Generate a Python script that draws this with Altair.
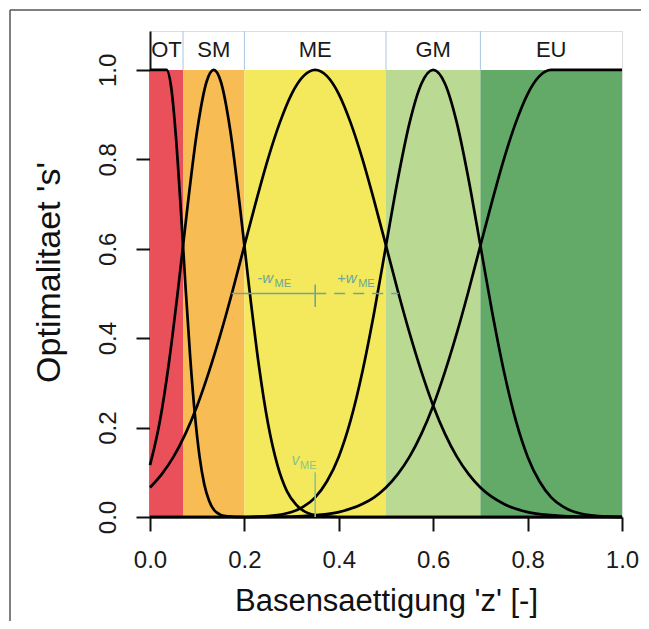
import altair as alt
import pandas as pd

# --- bands / classes ---
band_names = ["OT", "SM", "ME", "GM", "EU"]
band_start = [0.0, 0.07, 0.2, 0.5, 0.7]
band_end = [0.07, 0.2, 0.5, 0.7, 1.0]
band_colors = ["#E9505A", "#F8BC55", "#F4E95C", "#BAD993", "#63A968"]
label_x = [0.035, 0.135, 0.35, 0.6, 0.85]
separators = [0.07, 0.2, 0.5, 0.7]

# --- optimality curves ---
OT_x = [0.0, 0.035, 0.045, 0.055, 0.065, 0.075, 0.085, 0.095, 0.105, 0.115, 0.125, 0.14, 0.16, 0.2, 1.0]
OT_y = [1.0, 1.0, 0.960, 0.849, 0.693, 0.520, 0.360, 0.230, 0.135, 0.073, 0.037, 0.011, 0.002, 0.0, 0.0]

SM_x = [0.0, 0.02, 0.04, 0.06, 0.08, 0.10, 0.12, 0.135, 0.15, 0.17, 0.19, 0.21, 0.23, 0.25, 0.27, 0.29, 0.31, 0.33, 0.36, 0.40, 1.0]
SM_y = [0.116, 0.209, 0.344, 0.514, 0.699, 0.865, 0.974, 1.0, 0.974, 0.865, 0.699, 0.514, 0.344, 0.209, 0.116, 0.058, 0.027, 0.011, 0.003, 0.0, 0.0]

ME_x = [0.0, 0.025, 0.05, 0.075, 0.1, 0.125, 0.15, 0.175, 0.2, 0.225, 0.25, 0.275, 0.3, 0.325, 0.35,
        0.375, 0.4, 0.425, 0.45, 0.475, 0.5, 0.525, 0.55, 0.575, 0.6, 0.625, 0.65, 0.675, 0.7,
        0.75, 0.8, 0.85, 0.9, 1.0]
ME_y = [0.066, 0.096, 0.135, 0.186, 0.249, 0.325, 0.411, 0.506, 0.607, 0.707, 0.801, 0.882, 0.946, 0.986, 1.0,
        0.986, 0.946, 0.882, 0.801, 0.707, 0.607, 0.506, 0.411, 0.325, 0.249, 0.186, 0.135, 0.096, 0.066,
        0.029, 0.011, 0.004, 0.001, 0.0]

GM_x = [0.0, 0.2, 0.25, 0.3, 0.325, 0.35, 0.375, 0.4, 0.425, 0.45, 0.475, 0.5, 0.525, 0.55, 0.575, 0.6,
        0.625, 0.65, 0.675, 0.7, 0.725, 0.75, 0.775, 0.8, 0.825, 0.85, 0.875, 0.9, 0.95, 1.0]
GM_y = [0.0, 0.0, 0.002, 0.011, 0.023, 0.044, 0.080, 0.135, 0.216, 0.325, 0.458, 0.607, 0.755, 0.882, 0.969, 1.0,
        0.969, 0.882, 0.755, 0.607, 0.458, 0.325, 0.216, 0.135, 0.080, 0.044, 0.023, 0.011, 0.002, 0.0]

EU_x = [0.0, 0.2, 0.3, 0.35, 0.4, 0.45, 0.475, 0.5, 0.525, 0.55, 0.575, 0.6, 0.625, 0.65, 0.675, 0.7,
        0.725, 0.75, 0.775, 0.8, 0.825, 0.85, 1.0]
EU_y = [0.0, 0.0, 0.001, 0.004, 0.011, 0.029, 0.044, 0.066, 0.096, 0.135, 0.186, 0.249, 0.325, 0.411, 0.506, 0.607,
        0.707, 0.801, 0.882, 0.946, 0.986, 1.0, 1.0]

# annotation values for ME
me_center = 0.35
me_left = 0.173
me_right = 0.527
me_level = 0.5
v_top = 0.1

x_ticks = [0.0, 0.2, 0.4, 0.6, 0.8, 1.0]
y_ticks = [0.0, 0.2, 0.4, 0.6, 0.8, 1.0]
Y_TOP = 1.087

FONT = "Liberation Sans"

bands = pd.DataFrame({"name": band_names, "x0": band_start, "x1": band_end,
                      "y0": [0.0] * 5, "y1": [1.0] * 5, "lx": label_x,
                      "ly": [1.045] * 5})
rows = []
for nm, xs_, ys_ in [("OT", OT_x, OT_y), ("SM", SM_x, SM_y), ("ME", ME_x, ME_y),
                     ("GM", GM_x, GM_y), ("EU", EU_x, EU_y)]:
    for i, (a, b) in enumerate(zip(xs_, ys_)):
        rows.append({"curve": nm, "x": a, "s": b, "i": i})
curves = pd.DataFrame(rows)

xs = alt.Scale(domain=[0, 1], nice=False, zero=False, padding=0)
ys = alt.Scale(domain=[0, Y_TOP], nice=False, zero=False, padding=0)

xaxis = alt.Axis(values=x_ticks, format=".1f", grid=False, labelFontSize=24, labelFont=FONT,
                 labelColor="#1a1a1a", tickSize=14, tickWidth=2, tickColor="#111",
                 domainColor="#111", domainWidth=2, labelPadding=17, labelFlush=False,
                 title="Basensaettigung 'z' [-]", titleFont=FONT, titleFontSize=31,
                 titleFontWeight="normal", titleColor="#111", titleBaseline="alphabetic",
                 titleY=93)
yaxis = alt.Axis(values=y_ticks, format=".1f", grid=False, labelFontSize=24, labelFont=FONT,
                 labelColor="#1a1a1a", tickSize=14, tickWidth=2, tickColor="#111",
                 domainColor="#111", domainWidth=2, labelPadding=21, labelAngle=270,
                 labelAlign="center", labelBaseline="alphabetic", labelFlush=False,
                 title="Optimalitaet 's'", titleFont=FONT, titleFontSize=34,
                 titleFontWeight="normal", titleColor="#111", titleAngle=270,
                 titleAlign="center", titleBaseline="alphabetic", titleX=-91, titleY=241)

band_layer = alt.Chart(bands).mark_rect().encode(
    x=alt.X("x0:Q", scale=xs, axis=xaxis),
    x2="x1:Q",
    y=alt.Y("y0:Q", scale=ys, axis=yaxis),
    y2="y1:Q",
    color=alt.Color("name:N", scale=alt.Scale(domain=band_names, range=band_colors), legend=None),
)

sep_df = pd.DataFrame({"x": separators, "y0": [1.0] * 4, "y1": [Y_TOP] * 4})
sep_layer = alt.Chart(sep_df).mark_rule(color="#A9C6E4", strokeWidth=1).encode(
    x=alt.X("x:Q", scale=xs), y=alt.Y("y0:Q", scale=ys), y2="y1:Q")

label_layer = alt.Chart(bands).mark_text(font=FONT, fontSize=22, color="#1a1a1a",
                                         baseline="middle", align="center").encode(
    x=alt.X("lx:Q", scale=xs), y=alt.Y("ly:Q", scale=ys), text="name:N")

curve_layer = alt.Chart(curves).mark_line(color="black", strokeWidth=2.7, interpolate="monotone").encode(
    x=alt.X("x:Q", scale=xs), y=alt.Y("s:Q", scale=ys), detail="curve:N", order="i:Q")

ANN = "#6CA69B"
solid_df = pd.DataFrame({"x0": [me_left], "x1": [me_center], "y": [me_level]})
dash_df = pd.DataFrame({"x0": [me_center], "x1": [me_right], "y": [me_level]})
solid = alt.Chart(solid_df).mark_rule(color=ANN, strokeWidth=1.6).encode(
    x=alt.X("x0:Q", scale=xs), x2="x1:Q", y=alt.Y("y:Q", scale=ys))
dashed = alt.Chart(dash_df).mark_rule(color=ANN, strokeWidth=1.6, strokeDash=[11, 8]).encode(
    x=alt.X("x0:Q", scale=xs), x2="x1:Q", y=alt.Y("y:Q", scale=ys))
tick_df = pd.DataFrame({"x": [me_center], "y0": [me_level - 0.03], "y1": [me_level + 0.02]})
tick = alt.Chart(tick_df).mark_rule(color=ANN, strokeWidth=1.6).encode(
    x=alt.X("x:Q", scale=xs), y=alt.Y("y0:Q", scale=ys), y2="y1:Q")
v_df = pd.DataFrame({"x": [me_center], "y0": [0.0], "y1": [v_top]})
vline = alt.Chart(v_df).mark_rule(color="#8CC48A", strokeWidth=1.6).encode(
    x=alt.X("x:Q", scale=xs), y=alt.Y("y0:Q", scale=ys), y2="y1:Q")

main_txt = pd.DataFrame({"x": [0.227, 0.396], "y": [0.523, 0.523], "t": ["-w", "+w"]})
sub_txt = pd.DataFrame({"x": [0.264, 0.441], "y": [0.514, 0.514], "t": ["ME", "ME"]})
w_main = alt.Chart(main_txt).mark_text(font=FONT, fontSize=15, fontStyle="italic", color=ANN,
                                       align="left", baseline="alphabetic").encode(
    x=alt.X("x:Q", scale=xs), y=alt.Y("y:Q", scale=ys), text="t:N")
w_sub = alt.Chart(sub_txt).mark_text(font=FONT, fontSize=11, color=ANN,
                                     align="left", baseline="alphabetic").encode(
    x=alt.X("x:Q", scale=xs), y=alt.Y("y:Q", scale=ys), text="t:N")
v_main_df = pd.DataFrame({"x": [0.30], "y": [0.116], "t": ["v"]})
v_sub_df = pd.DataFrame({"x": [0.318], "y": [0.108], "t": ["ME"]})
v_main = alt.Chart(v_main_df).mark_text(font=FONT, fontSize=16, fontStyle="italic", color="#8CC48A",
                                        align="left", baseline="alphabetic").encode(
    x=alt.X("x:Q", scale=xs), y=alt.Y("y:Q", scale=ys), text="t:N")
v_sub = alt.Chart(v_sub_df).mark_text(font=FONT, fontSize=11, color="#8CC48A",
                                      align="left", baseline="alphabetic").encode(
    x=alt.X("x:Q", scale=xs), y=alt.Y("y:Q", scale=ys), text="t:N")

# outer frame of the figure (left and top edges)
frame_left = alt.Chart(pd.DataFrame({"k": [0]})).mark_rule(color="#555", strokeWidth=1.5).encode(
    x=alt.value(-140), y=alt.value(-21), y2=alt.value(600))
frame_top = alt.Chart(pd.DataFrame({"k": [0]})).mark_rule(color="#555", strokeWidth=1.5).encode(
    x=alt.value(-140), x2=alt.value(500), y=alt.value(-21))

chart = alt.layer(
    band_layer, sep_layer, label_layer, curve_layer,
    solid, dashed, tick, vline, w_main, w_sub, v_main, v_sub,
    frame_left, frame_top,
).properties(
    width=472, height=486,
    padding={"left": 142, "top": 23, "right": 19, "bottom": 104},
    autosize=alt.AutoSizeParams(type="none"),
).configure_view(stroke="#111", strokeWidth=2.5).configure(background="white")

chart.save("out.html", embed_options={"renderer": "svg", "actions": False})
